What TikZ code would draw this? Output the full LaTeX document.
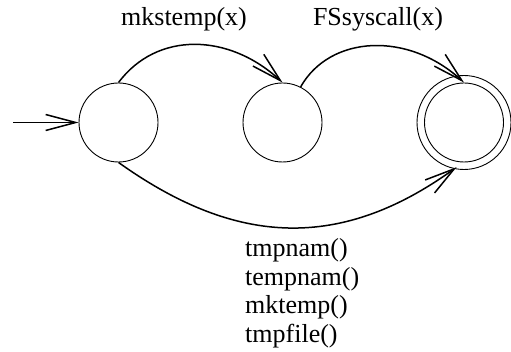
\documentclass[tikz,border=0pt]{standalone}
\usepackage{fontspec}
\setmainfont{Liberation Serif}
\usetikzlibrary{arrows.meta}
\begin{document}
\begin{tikzpicture}[x=1pt,y=-1pt,
  state/.style={draw,circle,line width=0.9pt,minimum size=79pt,inner sep=0pt},
  ring/.style={draw,circle,line width=0.9pt,minimum size=94pt,inner sep=0pt},
  edge/.style={line width=1.5pt,-{Straight Barb[length=30pt,width=16pt,line width=1.5pt]}},
  lbl/.style={font=\fontsize{26}{28}\selectfont,inner sep=0pt,anchor=base}]
\useasboundingbox (0,0) rectangle (511,352);
\node[state] (q0) at (118.5,122.5) {};
\node[state] (q1) at (282.5,122.5) {};
\node[state] (q2) at (464,122.5) {};
\node[ring] (q2o) at (464,122.5) {};
\coordinate (init) at (13,122.5);
\draw[edge] (init) -- (q0.west);
\draw[edge] (q0.north) .. controls (157,31) and (229,33) .. (q1.north);
\draw[edge] (q1.63) .. controls (330,35) and (408,31) .. (q2.north);
\draw[edge,shorten >=-3pt] (q0.south) .. controls (230,242) and (335,255) .. (q2o.-102);
\node[lbl] (l1) at (184,26) {mkstemp(x)};
\node[lbl] (l2) at (378,26) {FSsyscall(x)};
\node[lbl,anchor=base west] (t1) at (245,257) {tmpnam()};
\node[lbl,anchor=base west] (t2) at (245,285.5) {tempnam()};
\node[lbl,anchor=base west] (t3) at (245,313.5) {mktemp()};
\node[lbl,anchor=base west] (t4) at (245,342) {tmpfile()};
\end{tikzpicture}
\end{document}
